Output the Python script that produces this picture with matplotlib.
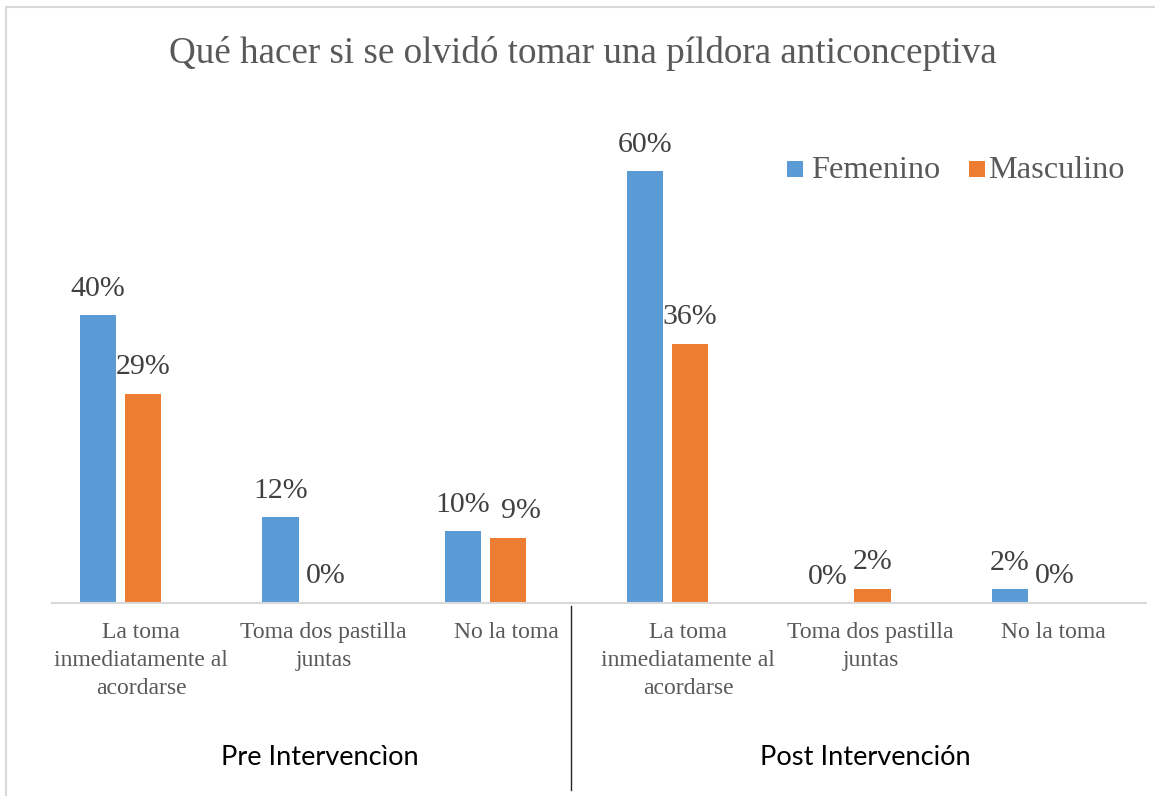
import matplotlib
matplotlib.use('Agg')
import matplotlib.pyplot as plt
from matplotlib.patches import Rectangle
from matplotlib.lines import Line2D
import numpy as np

title = "Qué hacer si se olvidó tomar una píldora anticonceptiva"
categories = ["La toma\ninmediatamente al\nacordarse", "Toma dos pastilla\njuntas", "No la toma",
              "La toma\ninmediatamente al\nacordarse", "Toma dos pastilla\njuntas", "No la toma"]
groups = ["Pre Intervencìon", "Post Intervención"]
series_names = ["Femenino", "Masculino"]
femenino = [40, 12, 10, 60, 0, 2]
masculino = [29, 0, 9, 36, 2, 0]

BLUE = '#5B9BD5'
ORANGE = '#ED7D31'
GRAY = '#595959'
DARK = '#404040'
SERIF = 'Liberation Serif'

W, H = 1155, 796
fig = plt.figure(figsize=(W / 100, H / 100), dpi=100)

def fx(px):
    return px / W

def fy(py):
    return 1 - py / H

PT = 72 / 100  # points per pixel

# outer frame
fig.add_artist(Rectangle((fx(6), fy(796 + 20)), fx(1200), (796 + 20 - 7) / H,
                         transform=fig.transFigure, fill=False,
                         edgecolor='#D9D9D9', linewidth=1.5))

ax = fig.add_axes([fx(52), fy(603), fx(1146) - fx(52), (603 - 171) / H])
x = np.arange(len(categories))
ax.set_xlim(-0.5, len(categories) - 0.5)
ax.set_ylim(0, 60)

bw = 0.2
off_f = -0.247
off_m = 0.0
ax.bar(x + off_f, femenino, bw, color=BLUE, label=series_names[0])
ax.bar(x + off_m, masculino, bw, color=ORANGE, label=series_names[1])

# horizontal nudges (pixels) of the data labels, as placed in the original
nudge_m = [0, 0, 13, 0, 0, 0]

for xi, v in zip(x, femenino):
    ax.annotate(f"{v}%", (xi + off_f, v), xytext=(0, 19 * PT), textcoords='offset points',
                ha='center', va='baseline', fontsize=21.5, family=SERIF, color=DARK,
                annotation_clip=False)
for xi, v, n in zip(x, masculino, nudge_m):
    ax.annotate(f"{v}%", (xi + off_m, v), xytext=(n * PT, 20 * PT), textcoords='offset points',
                ha='center', va='baseline', fontsize=21.5, family=SERIF, color=DARK,
                annotation_clip=False)

for s in ['top', 'right', 'left']:
    ax.spines[s].set_visible(False)
ax.spines['bottom'].set_color('#D9D9D9')
ax.spines['bottom'].set_linewidth(1.5)
ax.set_xticks([])
ax.set_yticks([])

trans = ax.get_xaxis_transform()
for xi, c in zip(x, categories):
    ax.text(xi - 0.01, (603 - 622) / 432, c, transform=trans, ha='center', va='top',
            fontsize=17, family=SERIF, color=GRAY, linespacing=1.44)

# separator
fig.add_artist(Line2D([fx(571), fx(571)], [fy(606), fy(790)], transform=fig.transFigure,
                      color='#262626', linewidth=1.0))

# group labels
fig.text(fx(320), fy(765), groups[0], ha='center', va='baseline', fontsize=19.6,
         family='Lato', color='black')
fig.text(fx(865), fy(765), groups[1], ha='center', va='baseline', fontsize=19.6,
         family='Lato', color='black')

# title
fig.text(fx(583), fy(63), title, ha='center', va='baseline', fontsize=26.7,
         family=SERIF, color=GRAY)

# legend
fig.add_artist(Rectangle((fx(787), fy(177)), 16 / W, 16 / H, transform=fig.transFigure,
                         facecolor=BLUE, edgecolor='none'))
fig.text(fx(811), fy(178), series_names[0], ha='left', va='baseline', fontsize=23.3,
         family=SERIF, color=GRAY)
fig.add_artist(Rectangle((fx(969), fy(177)), 16 / W, 16 / H, transform=fig.transFigure,
                         facecolor=ORANGE, edgecolor='none'))
fig.text(fx(988), fy(178), series_names[1], ha='left', va='baseline', fontsize=23.3,
         family=SERIF, color=GRAY)

fig.savefig('out.png', dpi=100)
